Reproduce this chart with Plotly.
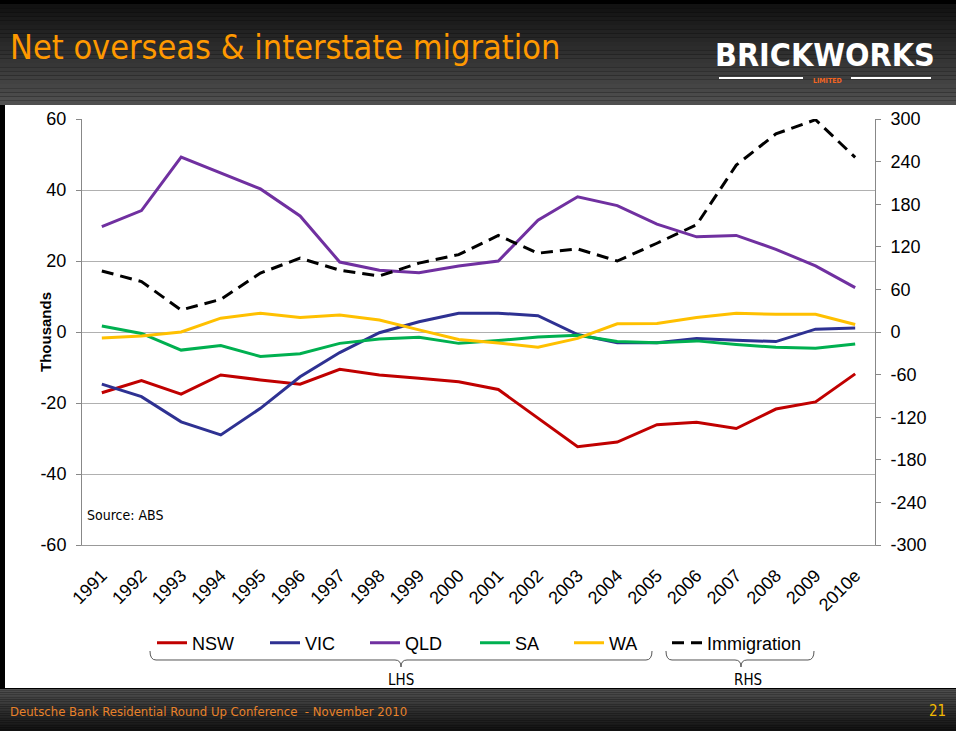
import plotly.graph_objects as go

years = ['1991', '1992', '1993', '1994', '1995', '1996', '1997', '1998', '1999', '2000',
         '2001', '2002', '2003', '2004', '2005', '2006', '2007', '2008', '2009', '2010e']

nsw = [-17.1, -13.7, -17.5, -12.1, -13.5, -14.7, -10.5, -12.1, -13.0, -14.0,
       -16.2, -24.3, -32.3, -31.0, -26.1, -25.4, -27.2, -21.7, -19.7, -11.8]
vic = [-14.7, -18.2, -25.3, -29.0, -21.5, -12.6, -5.8, -0.2, 2.9, 5.3,
       5.3, 4.6, -0.7, -3.0, -3.0, -1.8, -2.3, -2.7, 0.8, 1.1]
qld = [29.7, 34.2, 49.3, 44.9, 40.3, 32.7, 19.7, 17.4, 16.7, 18.6,
       20.0, 31.5, 38.1, 35.6, 30.4, 26.8, 27.2, 23.3, 18.6, 12.5]
sa = [1.7, -0.4, -5.1, -3.8, -6.9, -6.1, -3.2, -2.0, -1.5, -3.2,
      -2.4, -1.4, -0.9, -2.7, -3.0, -2.5, -3.5, -4.3, -4.6, -3.4]
wa = [-1.7, -1.1, 0.0, 3.9, 5.3, 4.1, 4.8, 3.4, 0.6, -2.1,
      -3.1, -4.3, -1.8, 2.3, 2.4, 4.1, 5.3, 5.0, 5.0, 2.1]
immigration = [86, 71, 31, 46, 83, 104, 87, 79, 97, 109,
               136, 111, 117, 100, 125, 151, 235, 279, 299, 246]

left_ticks = [-60, -40, -20, 0, 20, 40, 60]
right_ticks = [-300, -240, -180, -120, -60, 0, 60, 120, 180, 240, 300]

# plot area in pixels: x 82..875, y 119..545
W, H = 956, 731
L, R, T, B = 82, 875, 119, 545


def px(x):
    return (x - L) / (R - L)


def py(y):
    return (B - y) / (B - T)


def path(points):
    out = ''
    for cmd, pts in points:
        out += cmd + ' '.join('%.5f,%.5f' % (px(a), py(b)) for a, b in pts) + ' '
    return out.strip()


NARROW = 'Liberation Sans Narrow, Arial Narrow, DejaVu Sans Condensed, sans-serif'
ARIAL = 'Liberation Sans, Arial, sans-serif'

fig = go.Figure()

series = [
    ('NSW', nsw, '#C00000', 'solid', 'y', 152),
    ('VIC', vic, '#2E3192', 'solid', 'y', 265),
    ('QLD', qld, '#7030A0', 'solid', 'y', 365),
    ('SA', sa, '#00B050', 'solid', 'y', 475),
    ('WA', wa, '#FFC000', 'solid', 'y', 569),
    ('Immigration', immigration, '#000000', '12px,7px', 'y2', 667),
]

layout_legends = {}
for i, (name, vals, color, dash, axis, lx) in enumerate(series):
    key = 'legend' if i == 0 else 'legend%d' % (i + 1)
    fig.add_trace(go.Scatter(x=years, y=vals, name=name, mode='lines', yaxis=axis,
                             line=dict(color=color, width=3, dash=dash),
                             legend=key))
    layout_legends[key] = dict(x=px(lx), y=py(643), xanchor='left', yanchor='middle',
                               orientation='h', bgcolor='rgba(0,0,0,0)',
                               font=dict(family=ARIAL, size=18, color='black'),
                               itemclick=False, itemdoubleclick=False)

shapes = []
# slide background
shapes.append(dict(type='rect', xref='paper', yref='paper', layer='below',
                   x0=px(5), x1=px(W), y0=py(105), y1=py(688),
                   fillcolor='white', line=dict(width=0)))
# header and footer gradients
n = 24
for k in range(n):
    y0 = 4 + (105 - 4) * k / n
    y1 = 4 + (105 - 4) * (k + 1) / n
    c = int(18 + (80 - 18) * k / (n - 1))
    shapes.append(dict(type='rect', xref='paper', yref='paper', layer='below',
                       x0=px(0), x1=px(W), y0=py(y0), y1=py(y1),
                       fillcolor='rgb(%d,%d,%d)' % (c, c, c), line=dict(width=0)))
for k in range(n):
    y0 = 689 + (H - 689) * k / n
    y1 = 689 + (H - 689) * (k + 1) / n
    c = int(78 - (78 - 18) * k / (n - 1))
    shapes.append(dict(type='rect', xref='paper', yref='paper', layer='below',
                       x0=px(0), x1=px(W), y0=py(y0), y1=py(y1),
                       fillcolor='rgb(%d,%d,%d)' % (c, c, c), line=dict(width=0)))

# logo rules
for a, b in [(719, 803), (851, 931)]:
    shapes.append(dict(type='line', xref='paper', yref='paper',
                       x0=px(a), x1=px(b), y0=py(78), y1=py(78),
                       line=dict(color='white', width=2)))

# braces under the legend
for a, c, b in [(150, 401, 652), (666, 741, 814)]:
    shapes.append(dict(type='path', xref='paper', yref='paper',
                       path=path([('M', [(a, 651)]), ('Q', [(a, 660), (a + 6, 660)]),
                                  ('L', [(c - 6, 660)]), ('Q', [(c, 660), (c, 667)]),
                                  ('Q', [(c, 660), (c + 6, 660)]),
                                  ('L', [(b - 6, 660)]), ('Q', [(b, 660), (b, 651)])]),
                       line=dict(color='#555555', width=1)))

annotations = [
    dict(text='Net overseas & interstate migration', x=px(8), y=py(47), xanchor='left',
         yanchor='middle', font=dict(family=NARROW, size=34, color='#FF9900')),
    dict(text='<b>BRICKWORKS</b>', x=px(825), y=py(55), xanchor='center', yanchor='middle',
         font=dict(family=NARROW, size=32, color='white')),
    dict(text='<b>LIMITED</b>', x=px(827), y=py(81), xanchor='center', yanchor='middle',
         font=dict(family=NARROW, size=7, color='#F26522')),
    dict(text='Source: ABS', x=px(85), y=py(515), xanchor='left', yanchor='middle',
         font=dict(family=NARROW, size=14, color='black')),
    dict(text='<b>Thousands</b>', x=px(45), y=py(332), textangle=-90, xanchor='center',
         yanchor='middle', font=dict(family=ARIAL, size=15, color='black')),
    dict(text='LHS', x=px(401), y=py(680), xanchor='center', yanchor='middle',
         font=dict(family=NARROW, size=15, color='black')),
    dict(text='RHS', x=px(748), y=py(680), xanchor='center', yanchor='middle',
         font=dict(family=NARROW, size=15, color='black')),
    dict(text='Deutsche Bank Residential Round Up Conference  - November 2010', x=px(8),
         y=py(711), xanchor='left', yanchor='middle',
         font=dict(family=NARROW, size=13, color='#E8822A')),
    dict(text='21', x=px(948), y=py(711), xanchor='right', yanchor='middle',
         font=dict(family=NARROW, size=15, color='#F2B800')),
]
for a in annotations:
    a.update(xref='paper', yref='paper', showarrow=False)

fig.update_layout(
    width=W, height=H,
    margin=dict(l=L, r=W - R, t=T, b=H - B, pad=0),
    paper_bgcolor='black',
    plot_bgcolor='rgba(0,0,0,0)',
    font=dict(family=ARIAL, size=18, color='black'),
    shapes=shapes,
    annotations=annotations,
    showlegend=True,
    hovermode=False,
    xaxis=dict(type='category', categoryorder='array', categoryarray=years,
               range=[-0.5, 19.5], tickangle=-45, ticks='', showgrid=False,
               showline=True, linecolor='#999999', linewidth=1,
               tickfont=dict(family=ARIAL, size=18, color='black'),
               ticklabelstandoff=12),
    xaxis2=dict(overlaying='x', anchor='free', position=0.5, range=[-0.5, 19.5],
                tickvals=[i + 0.5 for i in range(19)], ticks='inside', ticklen=5,
                tickcolor='#888888', showticklabels=False, showgrid=False,
                showline=True, linecolor='#888888', linewidth=1, zeroline=False),
    yaxis=dict(range=[-60, 60], tickvals=left_ticks, ticktext=[str(v) for v in left_ticks],
               showgrid=True, gridcolor='#B0B0B0',
               gridwidth=1, zeroline=False, showline=True, linecolor='#888888',
               ticks='outside', ticklen=5, tickcolor='#888888',
               tickfont=dict(family=ARIAL, size=18, color='black'), ticklabelstandoff=6),
    yaxis2=dict(range=[-300, 300], tickvals=right_ticks, ticktext=[str(v) for v in right_ticks],
                overlaying='y', side='right',
                showgrid=False, zeroline=False, showline=True, linecolor='#888888',
                ticks='outside', ticklen=5, tickcolor='#888888',
                tickfont=dict(family=ARIAL, size=18, color='black'), ticklabelstandoff=6),
    **layout_legends,
)

fig.write_html('out.html', config={'displayModeBar': False},
               post_script="document.body.style.margin='0';")
